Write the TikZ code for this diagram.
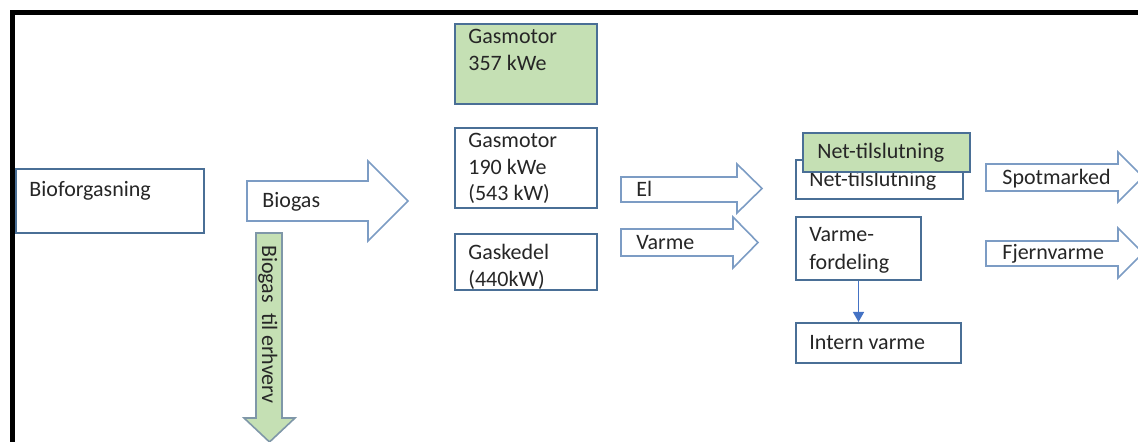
\documentclass[tikz,border=0pt]{standalone}
\usepackage{fontspec}
\setmainfont{Carlito}
\usetikzlibrary{arrows.meta}
\definecolor{boxline}{HTML}{4A6F96}
\definecolor{arrline}{HTML}{7C9CC4}
\definecolor{garrline}{HTML}{7F97A8}
\definecolor{gfill}{HTML}{C5E0B4}
\definecolor{txt}{HTML}{262626}
\definecolor{connblue}{HTML}{4472C4}
\newcommand{\harrowshape}[8]{%
  \draw[barrow,#1] (#2,#5) -- (#3,#5) -- (#3,#7) -- (#4,{(#7+#8)/2}) -- (#3,#8) -- (#3,#6) -- (#2,#6) -- cycle;}
\begin{document}
\begin{tikzpicture}[x=0.5pt,y=-0.5pt,
  box/.style={draw=boxline,line width=1pt,rectangle,inner sep=0pt,anchor=north west,fill=white},
  gbox/.style={box,fill=gfill},
  lbl/.style={anchor=base west,inner sep=0pt,text=txt,font=\fontsize{11}{13}\selectfont},
  barrow/.style={draw=arrline,line width=0.8pt,line join=miter,fill=white},
  conn/.style={draw=connblue,line width=0.7pt,-{Triangle[width=5.5pt,length=5pt]}},
]
\useasboundingbox (0,0) rectangle (1138,442);

% boxes
\node[box,minimum width=94pt,minimum height=32pt] (bio) at (15,168) {};
\node[lbl] (biot) at (29,197) {Bioforgasning};

\node[gbox,minimum width=71pt,minimum height=40pt] (gm357) at (454,23) {};
\node[lbl] (gm357a) at (468,44) {Gasmotor};
\node[lbl] (gm357b) at (468,71) {357 kWe};

\node[box,minimum width=71pt,minimum height=40pt] (gm190) at (454,127) {};
\node[lbl] (gm190a) at (468,148) {Gasmotor};
\node[lbl] (gm190b) at (468,175) {190 kWe};
\node[lbl] (gm190c) at (468,201) {(543 kW)};

\node[box,minimum width=71pt,minimum height=28pt] (gk) at (454,233) {};
\node[lbl] (gka) at (468,260) {Gaskedel};
\node[lbl] (gkb) at (468,287) {(440kW)};

\node[box,minimum width=83.5pt,minimum height=19.5pt] (net) at (795,159) {};
\node[lbl] (nett) at (809,187) {Net-tilslutning};
\node[gbox,minimum width=83.5pt,minimum height=19.5pt] (netg) at (802,132) {};
\node[lbl] (netgt) at (817,159) {Net-tilslutning};

\node[box,minimum width=62.5pt,minimum height=31.5pt] (vf) at (795,216) {};
\node[lbl] (vfa) at (809,242) {Varme-};
\node[lbl] (vfb) at (809,270) {fordeling};

\node[box,minimum width=82.5pt,minimum height=20pt] (iv) at (795,322) {};
\node[lbl] (ivt) at (809,350) {Intern varme};

\draw[conn] (vf.south) -- (vf.south |- iv.north);

% block arrows
\harrowshape{}{247}{368}{408}{181}{221}{161}{241}
\node[lbl] (bgt) at (262,208) {Biogas};

\harrowshape{}{621}{737}{762}{177}{202}{164}{213}
\node[lbl] (elt) at (636,197) {El};

\harrowshape{}{621}{733}{758}{229}{256}{217}{268}
\node[lbl] (vt) at (636,250) {Varme};

\harrowshape{}{986}{1118}{1143}{164}{191}{152}{202}
\node[lbl] (spt) at (1002,185) {Spotmarked};

\harrowshape{}{986}{1118}{1143}{241}{266}{228}{278}
\node[lbl] (fjt) at (1002,260) {Fjernvarme};

% green down arrow
\draw[draw=garrline,line width=0.8pt,fill=gfill,line join=miter]
  (256,233) -- (282,233) -- (282,418) -- (295,418) -- (269.5,442) -- (244,418) -- (256,418) -- cycle;
\node[lbl,rotate=-90] (bte) at (262,245) {Biogas\ \ til erhverv};

% frame
\draw[line width=2.5pt,black,line join=miter] (12.5,442) -- (12.5,12.5) -- (1138,12.5);
\end{tikzpicture}
\end{document}
